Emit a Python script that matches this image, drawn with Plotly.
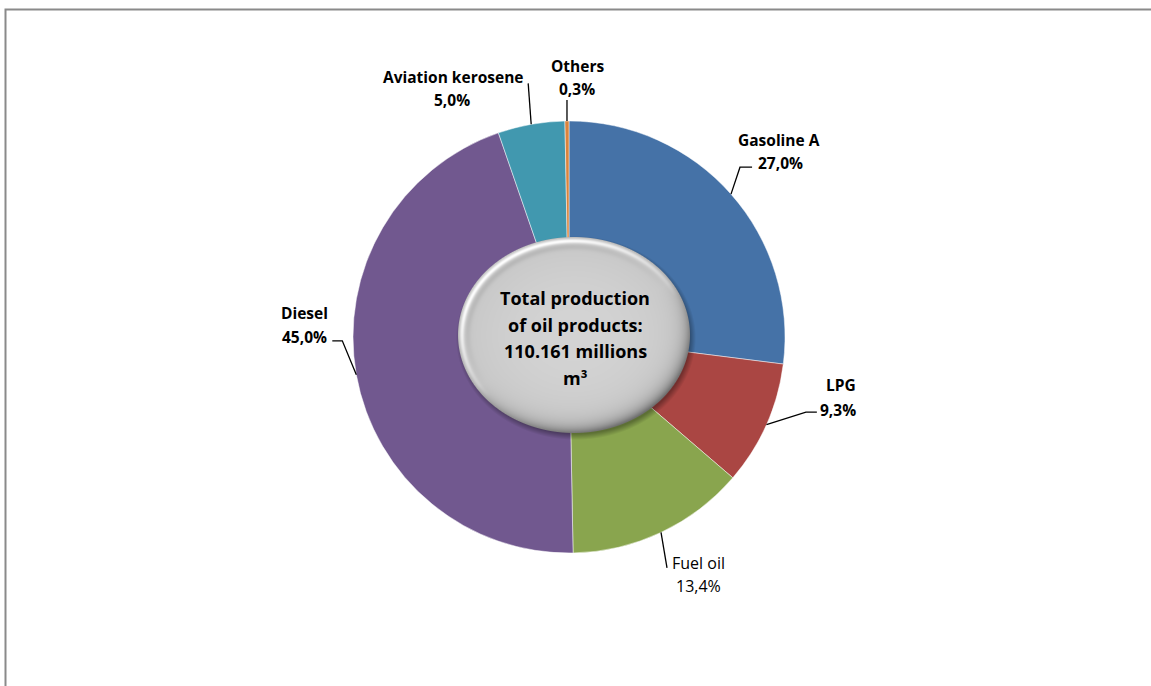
import base64
import math
import struct
import zlib

import numpy as np
import plotly.graph_objects as go

FIG_W, FIG_H = 1151, 686

# ---- data -------------------------------------------------------------
products = ["Gasoline A", "LPG", "Fuel oil", "Diesel", "Aviation kerosene", "Others"]
shares = [27.0, 9.3, 13.4, 45.0, 5.0, 0.3]
colors = ["#4572A7", "#AA4643", "#89A54E", "#71588F", "#4198AF", "#DB843D"]
bold_labels = [True, True, False, True, True, True]
center_lines = ["Total production", "of oil products:", "110.161 millions", "m³"]

# ---- layout parameters -------------------------------------------------
PIE_CX, PIE_CY, PIE_R = 569, 337, 216          # pie centre / radius in px
BADGE_CX, BADGE_CY, BADGE_RX, BADGE_RY = 574, 335, 116, 98

# leader line: elbow offset from the slice edge point, then horizontal tail
leader_style = {
    "Gasoline A": ((9, -27), 12),
    "LPG": ((39.5, -12.5), 11),
    "Fuel oil": ((6, 35.5), 0),
    "Diesel": ((-14, -34), -10),
    "Aviation kerosene": ((-3, -41), 0),
    "Others": ((0, -21), 0),
}
# label text centres (name line, value line) in px
label_pos = {
    "Gasoline A": ((779, 140), (780, 163)),
    "LPG": ((841, 385), (838, 410)),
    "Fuel oil": ((698, 563), (698, 586)),
    "Diesel": ((304, 313), (304, 337)),
    "Aviation kerosene": ((453, 77), (452, 100)),
    "Others": ((577, 66), (577, 89)),
}

FONT = "'Open Sans', Lato, sans-serif"


def px(x, y):
    """pixel position -> paper coordinates"""
    return x / FIG_W, 1 - y / FIG_H


def fmt_share(v):
    return f"{v:.1f}%".replace(".", ",")


# ---- bevelled badge drawn as an RGBA png ------------------------------
def badge_png(rx, ry, pad):
    w, h = int(2 * rx + 2 * pad), int(2 * ry + 2 * pad)
    ys, xs = np.mgrid[0:h, 0:w].astype(float) + 0.5
    cx, cy = w / 2, h / 2

    def edge(x, y, ox=0.0, oy=0.0):
        u = (x - cx - ox) / rx
        v = (y - cy - oy) / ry
        d = np.sqrt(u * u + v * v)
        gx, gy = u / rx, v / ry
        gn = np.sqrt(gx * gx + gy * gy)
        g = gn / np.maximum(d, 1e-6)
        e = (1 - d) / np.maximum(g, 1e-9)
        nx = gx / np.maximum(gn, 1e-9)
        ny = gy / np.maximum(gn, 1e-9)
        return e, d, nx, ny

    e, d, nx, ny = edge(xs, ys)
    lx, ly = -0.6, -0.8
    c = nx * lx + ny * ly                      # +1 facing the light, -1 away
    face = 198 + 14 * np.clip(1 - d * d, 0, 1)
    hl = 55 * np.exp(-((e - 4.0) / 2.3) ** 2) * np.clip(c + 0.15, 0, 1) ** 0.8
    dip = 16 * np.exp(-((e - 10.0) / 3.0) ** 2) * np.clip(c, 0, 1)
    dk = 100 * np.exp(-np.clip(e, 0, None) / 7.0) * np.clip(-c, 0, 1) ** 0.9
    side = 22 * np.exp(-np.clip(e, 0, None) / 4.0) * (1 - np.abs(c))
    val = face + hl - dip - dk - side
    outline = np.exp(-np.clip(e, 0, None) / 0.9)
    val = val * (1 - 0.25 * outline) + 150 * 0.25 * outline
    val = np.clip(val, 0, 255)
    a_main = np.clip(e + 0.5, 0, 1)

    es, _, _, _ = edge(xs, ys, 2.0, 3.0)
    a_sh = 0.32 * np.clip((es + 4.0) / 6.0, 0, 1)

    a_out = a_main + a_sh * (1 - a_main)
    col = np.where(a_out > 0, val * a_main / np.maximum(a_out, 1e-6), 0)
    rgba = np.zeros((h, w, 4), dtype=np.uint8)
    rgba[..., 0] = rgba[..., 1] = rgba[..., 2] = np.clip(col, 0, 255).astype(np.uint8)
    rgba[..., 3] = np.clip(a_out * 255, 0, 255).astype(np.uint8)

    raw = b"".join(b"\x00" + rgba[i].tobytes() for i in range(h))

    def chunk(tag, data):
        return (struct.pack(">I", len(data)) + tag + data
                + struct.pack(">I", zlib.crc32(tag + data) & 0xFFFFFFFF))

    png = (b"\x89PNG\r\n\x1a\n"
           + chunk(b"IHDR", struct.pack(">IIBBBBB", w, h, 8, 6, 0, 0, 0))
           + chunk(b"IDAT", zlib.compress(raw, 9))
           + chunk(b"IEND", b""))
    return "data:image/png;base64," + base64.b64encode(png).decode(), w, h


# ---- figure -------------------------------------------------------------
x0, y1 = px(PIE_CX - PIE_R, PIE_CY - PIE_R)
x1, y0 = px(PIE_CX + PIE_R, PIE_CY + PIE_R)

fig = go.Figure(go.Pie(
    labels=products,
    values=shares,
    sort=False,
    direction="clockwise",
    rotation=0,
    hole=0.4,
    marker=dict(colors=colors, line=dict(color="rgba(255,255,255,0.6)", width=0.8)),
    textinfo="none",
    hovertemplate="%{label}: %{value:.1f}%<extra></extra>",
    showlegend=False,
    domain=dict(x=[x0, x1], y=[y0, y1]),
))

shapes = []
annotations = []

# outer frame (top and left edge)
fx, fy_top = px(5.5, 9.5)
_, fy_bot = px(5.5, FIG_H)
fx_right, _ = px(FIG_W, 9.5)
shapes.append(dict(type="path", xref="paper", yref="paper",
                   path=f"M {fx},{fy_bot} L {fx},{fy_top} L {fx_right},{fy_top}",
                   line=dict(color="#8a8a8a", width=2)))

# leader lines and labels
total = sum(shares)
cum = 0.0
for name, val, is_bold in zip(products, shares, bold_labels):
    mid = (cum + val / 2) / total * 2 * math.pi
    cum += val
    ex = PIE_CX + PIE_R * math.sin(mid)
    ey = PIE_CY - PIE_R * math.cos(mid)
    (dx, dy), tail = leader_style[name]
    pts = [(ex, ey), (ex + dx, ey + dy)]
    if tail:
        pts.append((ex + dx + tail, ey + dy))
    path = " ".join(("M" if i == 0 else "L") + " {:.4f},{:.4f}".format(*px(*p))
                    for i, p in enumerate(pts))
    shapes.append(dict(type="path", xref="paper", yref="paper", path=path,
                       line=dict(color="#000000", width=1.3), layer="above"))

    (nx_, ny_), (vx_, vy_) = label_pos[name]
    for text, (tx, ty) in ((name, (nx_, ny_)), (fmt_share(val), (vx_, vy_))):
        ax, ay = px(tx, ty)
        annotations.append(dict(
            x=ax, y=ay, xref="paper", yref="paper", showarrow=False,
            xanchor="center", yanchor="middle",
            text=f"<b>{text}</b>" if is_bold else text,
            font=dict(family=FONT, size=15.5 if is_bold else 16, color="#000000"),
        ))

# central badge
src, bw, bh = badge_png(BADGE_RX, BADGE_RY, 10)
bx, by = px(BADGE_CX - bw / 2, BADGE_CY - bh / 2)
images = [dict(source=src, xref="paper", yref="paper", x=bx, y=by,
               sizex=bw / FIG_W, sizey=bh / FIG_H, xanchor="left", yanchor="top",
               sizing="stretch", layer="above")]

line_step = 26.5
first_y = 298
for i, line in enumerate(center_lines):
    ax, ay = px(575, first_y + i * line_step)
    annotations.append(dict(
        x=ax, y=ay, xref="paper", yref="paper", showarrow=False,
        xanchor="center", yanchor="middle", text=f"<b>{line}</b>",
        font=dict(family=FONT, size=18, color="#000000"),
    ))

fig.update_layout(
    width=FIG_W, height=FIG_H,
    margin=dict(l=0, r=0, t=0, b=0),
    paper_bgcolor="#ffffff", plot_bgcolor="#ffffff",
    shapes=shapes, annotations=annotations, images=images,
    showlegend=False,
)

fig.write_html("out.html")
